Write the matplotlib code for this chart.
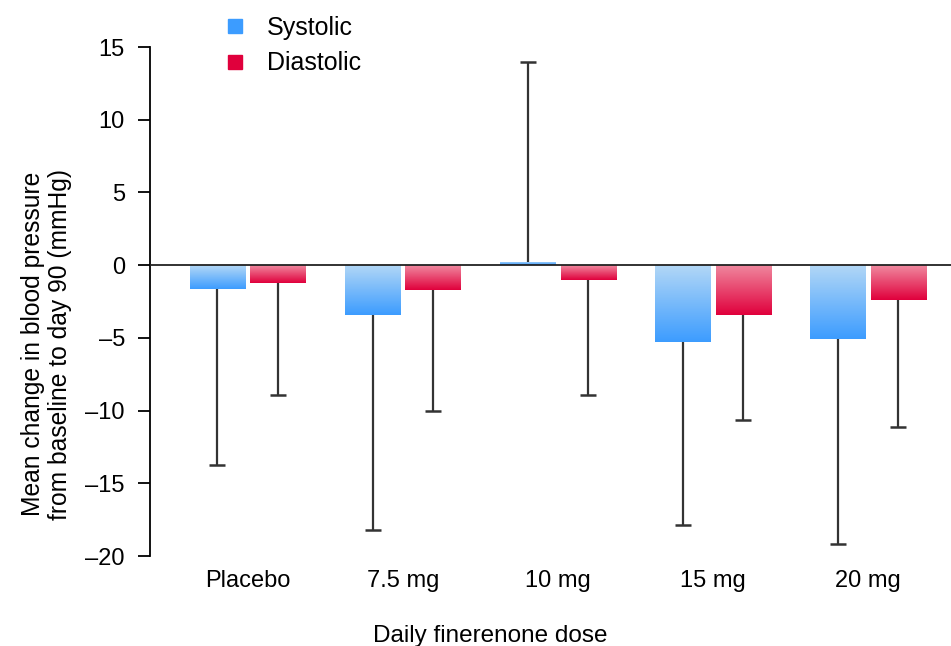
import numpy as np
import matplotlib
matplotlib.use("Agg")
import matplotlib.pyplot as plt
from matplotlib.colors import LinearSegmentedColormap
from matplotlib.lines import Line2D

plt.rcParams["font.family"] = ["Liberation Sans", "DejaVu Sans"]

# Data
doses = ["Placebo", "7.5 mg", "10 mg", "15 mg", "20 mg"]
systolic = [-1.65, -3.45, 0.25, -5.3, -5.1]
systolic_err_end = [-13.75, -18.2, 14.0, -17.9, -19.2]
diastolic = [-1.2, -1.7, -1.0, -3.45, -2.4]
diastolic_err_end = [-8.9, -10.0, -8.9, -10.65, -11.1]
yticks = [15, 10, 5, 0, -5, -10, -15, -20]
ytick_labels = ["15", "10", "5", "0", "\u20135", "\u201310", "\u201315", "\u201320"]

sys_cmap = LinearSegmentedColormap.from_list("sys", ["#b4d8f6", "#3c9cff"])
dia_cmap = LinearSegmentedColormap.from_list("dia", ["#f08aa0", "#e0003c"])

fig = plt.figure(figsize=(9.51, 6.46), dpi=100)
ax = fig.add_axes([0.1577, 0.1393, 0.8423, 0.7879])

x = np.arange(len(doses))
width = 0.355
offset = 0.195


def gradient_bars(xpos, values, err_end, cmap):
    bars = ax.bar(xpos, values, width, color="none", edgecolor="none")
    grad = np.linspace(0, 1, 256).reshape(-1, 1)
    for bar, v in zip(bars, values):
        x0 = bar.get_x()
        x1 = x0 + bar.get_width()
        # light near zero, darker toward the bar end
        img = grad if v < 0 else grad[::-1]
        im = ax.imshow(img, cmap=cmap, aspect="auto",
                       extent=[x0, x1, min(0, v), max(0, v)],
                       origin="upper" if v < 0 else "lower", zorder=2)
        im.set_clip_path(bar)
    # one-sided whiskers with a cap only at the far end
    ax.vlines(xpos, values, err_end, color="#333333", linewidth=1.6, zorder=3)
    ax.plot(xpos, err_end, linestyle="none", marker="_", markersize=11,
            markeredgewidth=1.8, color="#333333", zorder=3)


gradient_bars(x - offset, systolic, systolic_err_end, sys_cmap)
gradient_bars(x + offset, diastolic, diastolic_err_end, dia_cmap)

ax.axhline(0, color="#222222", linewidth=1.3, zorder=4)

ax.set_xlim(-0.63, 4.535)
ax.set_ylim(-20, 15)
ax.set_yticks(yticks)
ax.set_yticklabels(ytick_labels)
ax.set_xticks(x)
ax.set_xticklabels(doses)

for side in ["top", "right", "bottom"]:
    ax.spines[side].set_visible(False)
ax.spines["left"].set_linewidth(1.3)
ax.tick_params(axis="y", direction="out", length=9, width=1.3, labelsize=17, pad=9)
ax.tick_params(axis="x", length=0, labelsize=17, pad=10)

ax.set_ylabel("Mean change in blood pressure\nfrom baseline to day 90 (mmHg)",
              fontsize=17.7, linespacing=1.15)
ax.yaxis.set_label_coords(-0.097, 0.416)
ax.set_xlabel("Daily finerenone dose", fontsize=17.5)
ax.xaxis.set_label_coords(0.425, -0.135)

handles = [Line2D([], [], marker="s", linestyle="none", color="#3c9cff", markersize=10),
           Line2D([], [], marker="s", linestyle="none", color="#e0003c", markersize=10)]
fig.legend(handles, ["Systolic", "Diastolic"], loc="upper left",
           bbox_to_anchor=(0.21, 1.01), frameon=False, fontsize=18,
           handlelength=1.0, handletextpad=0.8, labelspacing=0.45)

fig.savefig("out.png", dpi=100)
